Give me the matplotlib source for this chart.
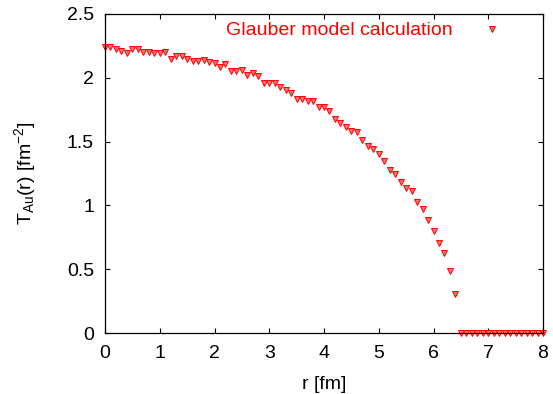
import numpy as np
import matplotlib
matplotlib.use("Agg")
import matplotlib.pyplot as plt

plt.rcParams['font.family'] = ['Liberation Sans', 'DejaVu Sans']
plt.rcParams['mathtext.fontset'] = 'custom'
plt.rcParams['mathtext.rm'] = 'Liberation Sans'
plt.rcParams['mathtext.it'] = 'Liberation Sans'

r_fm = [round(0.1 * i, 1) for i in range(81)]
t_au = [2.244, 2.244, 2.223, 2.210, 2.197, 2.223, 2.223, 2.205, 2.199, 2.197,
        2.197, 2.205, 2.144, 2.171, 2.171, 2.147, 2.131, 2.131, 2.136, 2.126,
        2.118, 2.087, 2.105, 2.053, 2.053, 2.058, 2.020, 2.036, 2.018, 1.961,
        1.961, 1.961, 1.927, 1.906, 1.882, 1.835, 1.835, 1.819, 1.822, 1.772,
        1.770, 1.738, 1.675, 1.646, 1.617, 1.580, 1.572, 1.510, 1.462, 1.445,
        1.404, 1.349, 1.278, 1.244, 1.187, 1.139, 1.116, 1.024, 0.969, 0.884,
        0.803, 0.709, 0.630, 0.483, 0.307, 0.0, 0.0, 0.0, 0.0, 0.0,
        0.0, 0.0, 0.0, 0.0, 0.0, 0.0, 0.0, 0.0, 0.0, 0.0, 0.0]
x_ticks = [0, 1, 2, 3, 4, 5, 6, 7, 8]
y_ticks = [0, 0.5, 1, 1.5, 2, 2.5]
y_tick_labels = ['0', '0.5', '1', '1.5', '2', '2.5']
series_label = 'Glauber model calculation'

fs = 14
fig = plt.figure(figsize=(5.53, 3.94), dpi=100)
ax = fig.add_axes([105/553, 61/394, 438/553, 319/394])

ax.plot(r_fm, t_au, linestyle='none', marker='v', markersize=4,
        markerfacecolor='#ff7070', markeredgecolor='#ff0000', markeredgewidth=0.7,
        clip_on=False)

ax.set_xlim(0, 8)
ax.set_ylim(0, 2.5)
ax.set_xticks(x_ticks)
ax.set_xticklabels([str(v) for v in x_ticks])
ax.set_yticks(y_ticks)
ax.set_yticklabels(y_tick_labels)
ax.tick_params(direction='in', length=3.8, width=0.8, top=True, right=True,
               labelsize=fs, colors='black')
ax.tick_params(axis='x', pad=9)
ax.tick_params(axis='y', pad=8)
for s in ax.spines.values():
    s.set_linewidth(0.9)

ax.set_xlabel('r [fm]', fontsize=fs, labelpad=10)
ax.set_ylabel(r'T$_{\mathregular{Au}}$(r) [fm$^{\mathregular{-2}}$]', fontsize=fs, labelpad=21)

# legend entry (text + sample marker), placed in axes coordinates
ax.text((453 - 105) / 438, (333 - 31) / 318, series_label, transform=ax.transAxes,
        ha='right', va='center', color='#ff0000', fontsize=fs)
ax.plot([(492 - 105) / 438], [(333 - 30) / 318], transform=ax.transAxes,
        linestyle='none', marker='v', markersize=4,
        markerfacecolor='#ff7070', markeredgecolor='#ff0000', markeredgewidth=0.7,
        clip_on=False)

fig.savefig('out.png', dpi=100)
